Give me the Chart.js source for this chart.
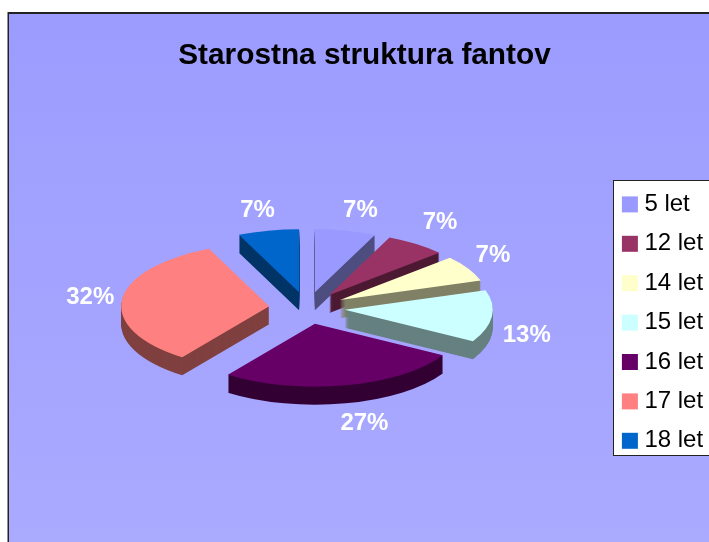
<!DOCTYPE html>
<html>
<head>
<meta charset="utf-8">
<style>
html,body{margin:0;padding:0;background:#fff;overflow:hidden}
#wrap{position:absolute;left:0;top:0;width:709px;height:542px}
</style>
<script src="https://cdn.jsdelivr.net/npm/chart.js@4"></script>
</head>
<body>
<div id="wrap"><canvas id="c" width="709" height="542"></canvas></div>
<script>
const categories = ['5 let','12 let','14 let','15 let','16 let','17 let','18 let'];
const counts = [1,1,1,2,4,5,1];
const percentLabels = ['7%','7%','7%','13%','27%','32%','7%'];
const sliceColors = ['#9999FF','#993366','#FFFFCC','#CCFFFF','#660066','#FF8080','#0066CC'];
const wallColors = ['#4D4D80','#4D1A33','#808066','#668080','#330033','#804040','#003366'];
const chartTitle = 'Starostna struktura fantov';
const labelNudges = [[6,-1],[-1,-5],[-11.5,-3],[-7,0],[10,2],[10,1],[-2,-1]];

const PIE = {cx:307, cy:308, radius:148, explode:38, squash:0.425, depth:18, labelRadius:228};
const LEGEND_BOX = {left:613, top:180, right:722, bottom:456};

const framePlugin = {
  id:'frame',
  afterLayout(chart){
    const l = chart.legend;
    l.maxHeight = 500;
    l.fit();
    l.left = LEGEND_BOX.left - 1; l.right = LEGEND_BOX.right;
    l.top = LEGEND_BOX.top - 3; l.bottom = LEGEND_BOX.bottom + 40;
    l.width = l.right - l.left; l.height = l.bottom - l.top;
  },
  beforeDraw(chart){
    const c = chart.ctx, W = chart.width, H = chart.height;
    c.save();
    c.fillStyle = '#fff'; c.fillRect(0,0,W,H);
    const g = c.createLinearGradient(0,13,0,H);
    g.addColorStop(0,'#9C9CFF'); g.addColorStop(1,'#AAAAFF');
    c.fillStyle = g; c.fillRect(8,13,W-8,H-13);
    c.fillStyle = '#222';
    c.fillRect(8,12,W-8,2);
    c.fillRect(7.5,12,1.5,H-12);
    c.fillStyle = '#fff';
    c.fillRect(LEGEND_BOX.left,LEGEND_BOX.top,LEGEND_BOX.right-LEGEND_BOX.left,LEGEND_BOX.bottom-LEGEND_BOX.top);
    c.strokeStyle = '#222'; c.lineWidth = 1;
    c.strokeRect(LEGEND_BOX.left+.5,LEGEND_BOX.top+.5,LEGEND_BOX.right-LEGEND_BOX.left,LEGEND_BOX.bottom-LEGEND_BOX.top-1);
    c.restore();
  },
  beforeDatasetsDraw(chart){
    const c = chart.ctx;
    const arcs = chart.getDatasetMeta(0).data;
    const mid = a => (a.startAngle + a.endAngle)/2 + Math.PI/2;
    const order = arcs.map((a,i)=>i).sort((p,q)=>Math.cos(mid(arcs[q]))-Math.cos(mid(arcs[p])));
    const place = (a,dy) => {
      const t = mid(a);
      c.translate(PIE.cx, PIE.cy + dy);
      c.scale(1,PIE.squash);
      c.translate(PIE.explode*Math.sin(t) - a.x, -PIE.explode*Math.cos(t) - a.y);
    };
    order.forEach(i=>{
      const a = arcs[i], base = a.options;
      a.options = Object.assign({},base,{backgroundColor:wallColors[i]});
      for(let k=PIE.depth;k>=1;k--){ c.save(); place(a,k); a.draw(c); c.restore(); }
      a.options = base;
      c.save(); place(a,0); a.draw(c); c.restore();
    });
    c.save();
    c.fillStyle = '#fff';
    c.font = 'bold 24px "Liberation Sans"';
    c.textAlign = 'center'; c.textBaseline = 'middle';
    arcs.forEach((a,i)=>{
      const t = mid(a);
      const below = Math.cos(t) < 0 ? PIE.depth : 0;
      const x = PIE.cx + PIE.labelRadius*Math.sin(t) + labelNudges[i][0];
      const y = 307 - PIE.labelRadius*0.43*Math.cos(t) + below + labelNudges[i][1];
      c.fillText(percentLabels[i],x,y);
    });
    c.restore();
    return false;
  }
};

new Chart(document.getElementById('c'),{
  type:'pie',
  data:{labels:categories,datasets:[{data:counts,backgroundColor:sliceColors,borderWidth:0}]},
  options:{
    responsive:false,
    animation:false,
    radius:PIE.radius,
    layout:{padding:{left:20}},
    plugins:{
      tooltip:{enabled:false},
      title:{display:true,text:chartTitle,color:'#000',
        font:{family:'"Liberation Sans"',size:29.8,weight:'bold'},padding:{top:38,bottom:10}},
      legend:{position:'right',align:'start',
        labels:{font:{family:'"Liberation Sans"',size:24},color:'#000',usePointStyle:true,
          pointStyle:'rect',boxHeight:16,boxWidth:5,padding:15.4}}
    }
  },
  plugins:[framePlugin]
});
</script>
</body>
</html>
